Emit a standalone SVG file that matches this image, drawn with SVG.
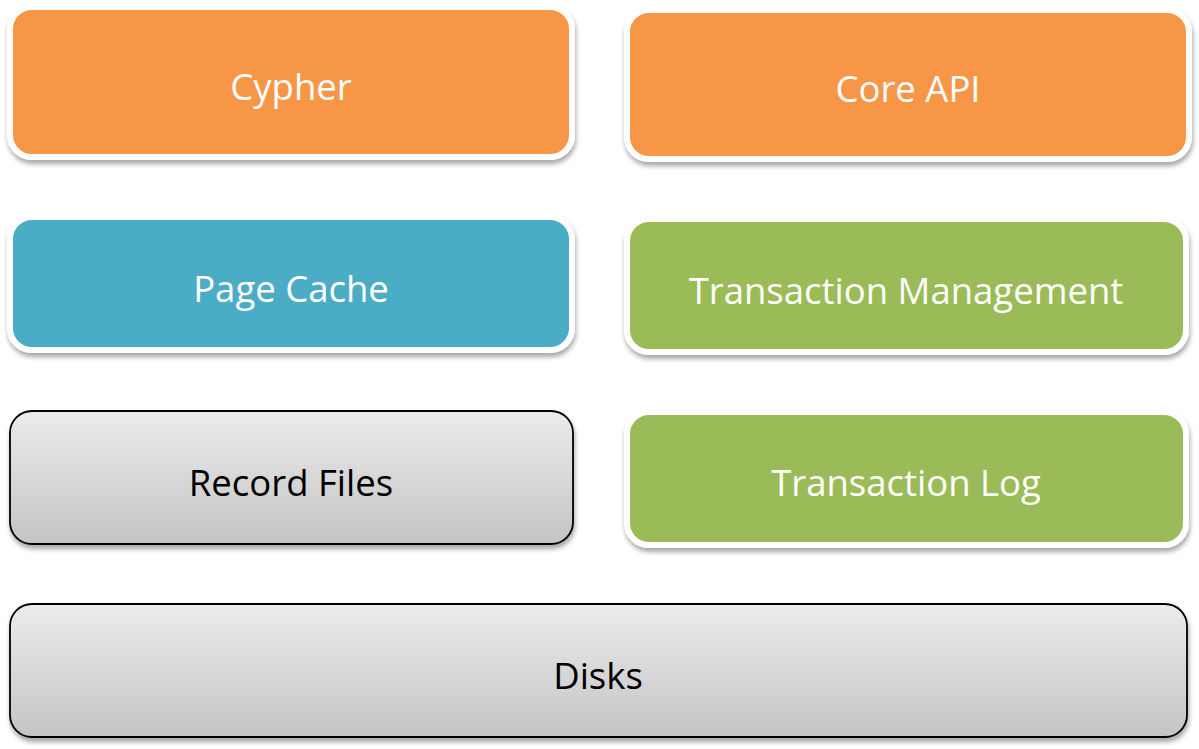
<svg xmlns="http://www.w3.org/2000/svg" width="1199" height="749" viewBox="0 0 1199 749">
  <defs>
    <linearGradient id="gray" x1="0" y1="0" x2="0" y2="1">
      <stop offset="0" stop-color="#ececec"/>
      <stop offset="1" stop-color="#c4c4c4"/>
    </linearGradient>
    <filter id="shadow" x="-5%" y="-10%" width="110%" height="130%">
      <feGaussianBlur in="SourceAlpha" stdDeviation="2.5"/>
      <feOffset dx="1" dy="4" result="b"/>
      <feComponentTransfer><feFuncA type="linear" slope="0.35"/></feComponentTransfer>
      <feMerge><feMergeNode/><feMergeNode in="SourceGraphic"/></feMerge>
    </filter>
  </defs>
  <style>
    .box { stroke: #ffffff; stroke-width: 6; filter: url(#shadow); }
    .orange { fill: #f79646; }
    .blue { fill: #4bacc6; }
    .green { fill: #9bbb59; }
    .plain { fill: url(#gray); stroke: #000000; stroke-width: 1.8; filter: url(#shadow); }
    .label { font-family: "Open Sans", "Liberation Sans", sans-serif; font-size: 36.5px; text-anchor: middle; dominant-baseline: central; }
    .light { fill: #ffffff; }
    .dark { fill: #000000; }
  </style>
  <rect width="1199" height="749" fill="#ffffff"/>

  <g id="cypher">
    <rect class="box orange" x="10" y="7" width="562" height="150" rx="22"/>
    <text class="label light" x="291" y="86">Cypher</text>
  </g>
  <g id="core-api">
    <rect class="box orange" x="627" y="10" width="562" height="149" rx="22"/>
    <text class="label light" x="908" y="88">Core API</text>
  </g>
  <g id="page-cache">
    <rect class="box blue" x="10" y="217" width="562" height="133" rx="22"/>
    <text class="label light" x="291" y="288">Page Cache</text>
  </g>
  <g id="transaction-management">
    <rect class="box green" x="627" y="219" width="559" height="133" rx="22"/>
    <text class="label light" x="906" y="290">Transaction Management</text>
  </g>
  <g id="record-files">
    <rect class="plain" x="10" y="411" width="563" height="133" rx="22"/>
    <text class="label dark" x="291" y="482">Record Files</text>
  </g>
  <g id="transaction-log">
    <rect class="box green" x="627" y="412" width="559" height="133" rx="22"/>
    <text class="label light" x="906" y="482">Transaction Log</text>
  </g>
  <g id="disks">
    <rect class="plain" x="10" y="604" width="1177" height="133" rx="22"/>
    <text class="label dark" x="598" y="675">Disks</text>
  </g>

  <g id="connectors"/>
</svg>
